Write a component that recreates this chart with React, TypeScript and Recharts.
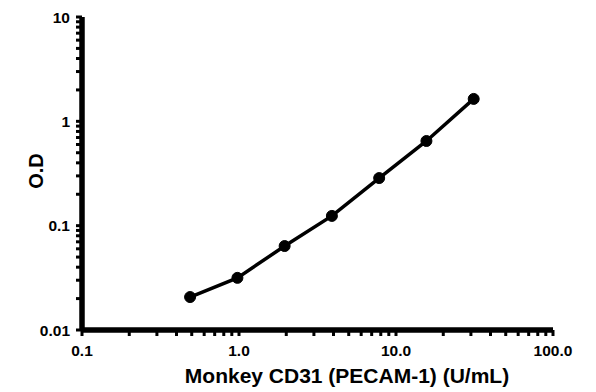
import React from "react";
import { LineChart, Line, XAxis, YAxis, ReferenceLine } from "recharts";

const concentrations = [0.488, 0.977, 1.953, 3.906, 7.8125, 15.625, 31.25];
const odValues = [0.0207, 0.0316, 0.0638, 0.124, 0.286, 0.648, 1.64];
const xMajorTicks = [0.1, 1, 10, 100];
const xTickLabels = ["0.1", "1.0", "10.0", "100.0"];
const yMajorTicks = [0.01, 0.1, 1, 10];
const yTickLabels = ["0.01", "0.1", "1", "10"];

const data = concentrations.map((x, i) => ({ x, od: odValues[i] }));

function logTicks(majors: number[]) {
  const out: number[] = [];
  for (let i = 0; i < majors.length; i++) {
    out.push(majors[i]);
    if (i < majors.length - 1) {
      for (let k = 2; k <= 9; k++) out.push(+(majors[i] * k).toPrecision(6));
    }
  }
  return out;
}

const FONT = "'Liberation Sans', Arial, sans-serif";

const XTick = (props: any) => {
  const { x, y, payload } = props;
  const idx = xMajorTicks.findIndex((v) => Math.abs(v - payload.value) < 1e-9);
  return (
    <g>
      <line x1={x} x2={x} y1={y - 8} y2={y - 2} stroke="#000" strokeWidth={3} />
      {idx >= 0 && (
        <text x={x} y={y + 18} textAnchor="middle" fontFamily={FONT} fontWeight="bold" fontSize={15.5} fill="#000">
          {xTickLabels[idx]}
        </text>
      )}
    </g>
  );
};

const YTick = (props: any) => {
  const { x, y, payload } = props;
  const idx = yMajorTicks.findIndex((v) => Math.abs(v - payload.value) < 1e-12);
  return (
    <g>
      <line x1={x + 2} x2={x + 8} y1={y} y2={y} stroke="#000" strokeWidth={3} />
      {idx >= 0 && (
        <text x={x - 4} y={y + 5.5} textAnchor="end" fontFamily={FONT} fontWeight="bold" fontSize={15.5} fill="#000">
          {yTickLabels[idx]}
        </text>
      )}
    </g>
  );
};

export default function App() {
  return (
    <div style={{ position: "absolute", left: 0, top: 0, background: "#fff" }}>
      <LineChart width={596} height={392} data={data} margin={{ top: 17, right: 43, bottom: 0, left: 0 }}>
        <XAxis
          dataKey="x"
          type="number"
          scale="log"
          domain={[0.1, 100]}
          ticks={logTicks(xMajorTicks)}
          interval={0}
          allowDataOverflow
          height={62}
          tickLine={false}
          axisLine={{ stroke: "#000", strokeWidth: 5 }}
          tick={<XTick />}
          label={() => (
            <text x={347} y={383} textAnchor="middle" fontFamily={FONT} fontWeight="bold" fontSize={21} fill="#000">
              Monkey CD31 (PECAM-1) (U/mL)
            </text>
          )}
        />
        <YAxis
          dataKey="od"
          type="number"
          scale="log"
          domain={[0.01, 10]}
          ticks={logTicks(yMajorTicks)}
          interval={0}
          allowDataOverflow
          width={82}
          tickLine={false}
          axisLine={{ stroke: "#000", strokeWidth: 5 }}
          tick={<YTick />}
          label={() => (
            <text x={43} y={171} transform="rotate(-90 43 171)" textAnchor="middle" fontFamily={FONT} fontWeight="bold" fontSize={20} fill="#000">
              O.D
            </text>
          )}
        />
        <ReferenceLine x={0.1} stroke="#000" strokeWidth={5} ifOverflow="visible" />
        <ReferenceLine y={0.01} stroke="#000" strokeWidth={5} ifOverflow="visible" />
        <Line
          dataKey="od"
          type="linear"
          stroke="#000"
          strokeWidth={3.5}
          dot={{ r: 5.5, fill: "#000", stroke: "#000", strokeWidth: 1 }}
          isAnimationActive={false}
        />
      </LineChart>
    </div>
  );
}
